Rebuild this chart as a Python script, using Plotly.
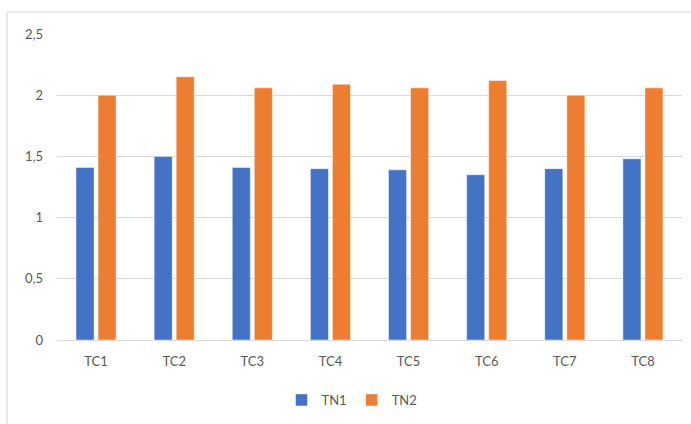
import plotly.graph_objects as go

# Category labels and the two measured series
categories = ["TC1", "TC2", "TC3", "TC4", "TC5", "TC6", "TC7", "TC8"]
tn1 = [1.41, 1.50, 1.41, 1.40, 1.39, 1.35, 1.40, 1.48]
tn2 = [2.00, 2.15, 2.06, 2.09, 2.06, 2.12, 2.00, 2.06]
y_ticks = [0, 0.5, 1, 1.5, 2, 2.5]

FONT = "Lato"
TEXT_GREY = "#595959"
GRID_GREY = "#d9d9d9"

fig = go.Figure()
fig.add_trace(go.Bar(
    name="TN1", x=categories, y=tn1,
    marker=dict(color="#4472C4", line=dict(color="rgba(255,255,255,0.6)", width=0.8)),
))
fig.add_trace(go.Bar(
    name="TN2", x=categories, y=tn2,
    marker=dict(color="#ED7D31", line=dict(color="rgba(255,255,255,0.6)", width=0.8)),
))

# Light frame around the chart area (left and top edges)
fig.add_shape(type="line", xref="paper", yref="paper",
              x0=-0.08, x1=-0.08, y0=-0.35, y1=1.0719,
              line=dict(color=GRID_GREY, width=1.2))
fig.add_shape(type="line", xref="paper", yref="paper",
              x0=-0.08, x1=1.05, y0=1.0719, y1=1.0719,
              line=dict(color=GRID_GREY, width=1.2))

fig.update_layout(
    width=691, height=424,
    margin=dict(l=57, r=9, t=34, b=84),
    paper_bgcolor="white", plot_bgcolor="white",
    separators=", ",
    barmode="group", bargap=0.436, bargroupgap=0.18,
    font=dict(family=FONT, size=13, color=TEXT_GREY),
    showlegend=True,
    legend=dict(orientation="h", x=0.472, xanchor="center",
                y=-0.196, yanchor="middle",
                font=dict(family=FONT, size=13, color=TEXT_GREY),
                itemwidth=30, traceorder="normal"),
    xaxis=dict(showgrid=False, showline=True, linecolor=GRID_GREY, linewidth=1,
               ticks="", ticklabelstandoff=9,
               tickfont=dict(family=FONT, size=13, color=TEXT_GREY),
               fixedrange=True),
    yaxis=dict(range=[0, 2.5], tickvals=y_ticks, showgrid=True, gridcolor=GRID_GREY,
               gridwidth=1, zeroline=False, showline=False, ticks="",
               ticklabelstandoff=13,
               tickfont=dict(family=FONT, size=13, color=TEXT_GREY),
               fixedrange=True),
)

fig.write_html("out.html")
